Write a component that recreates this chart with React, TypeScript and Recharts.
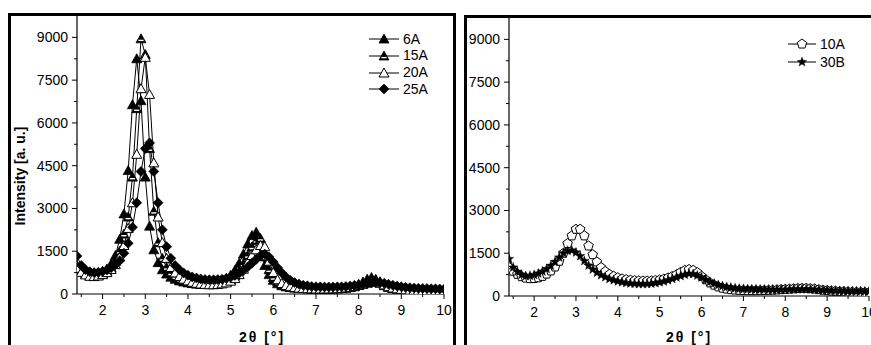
import { LineChart, Line, XAxis, YAxis } from "recharts";

// 2θ positions (deg), shared by both panels
const twoTheta = [
  1.4, 1.5, 1.6, 1.7, 1.8, 1.9, 2.0, 2.1, 2.2, 2.3, 2.4, 2.5, 2.6, 2.7, 2.8, 2.9, 3.0, 3.1, 3.2, 3.3,
  3.4, 3.5, 3.6, 3.7, 3.8, 3.9, 4.0, 4.1, 4.2, 4.3, 4.4, 4.5, 4.6, 4.7, 4.8, 4.9, 5.0, 5.1, 5.2, 5.3,
  5.4, 5.5, 5.6, 5.7, 5.8, 5.9, 6.0, 6.1, 6.2, 6.3, 6.4, 6.5, 6.6, 6.7, 6.8, 6.9, 7.0, 7.1, 7.2, 7.3,
  7.4, 7.5, 7.6, 7.7, 7.8, 7.9, 8.0, 8.1, 8.2, 8.3, 8.4, 8.5, 8.6, 8.7, 8.8, 8.9, 9.0, 9.1, 9.2, 9.3,
  9.4, 9.5, 9.6, 9.7, 9.8, 9.9, 10.0,
];

// left panel
const int6A = [
  1000, 850, 760, 710, 700, 730, 790, 880, 1050, 1350,
  1920, 2810, 4330, 6640, 8250, 6780, 4100, 2380, 1550, 1100,
  850, 700, 590, 520, 460, 420, 390, 365, 350, 345,
  345, 355, 375, 410, 460, 540, 660, 830, 1080, 1400,
  1750, 2050, 2170, 1650, 1000, 680, 480, 360, 290, 250,
  225, 210, 200, 195, 190, 190, 190, 190, 190, 195,
  200, 205, 215, 230, 255, 290, 340, 420, 520, 580,
  500, 380, 290, 230, 195, 175, 160, 150, 145, 140,
  135, 130, 130, 125, 125, 120, 120,
];
const int15A = [
  950, 800, 700, 650, 640, 660, 710, 790, 920, 1150,
  1500, 2100, 2700, 4100, 6500, 8950, 8400, 5100, 2900, 1800,
  1250, 930, 740, 610, 520, 460, 410, 380, 355, 340,
  330, 330, 335, 350, 380, 430, 510, 630, 800, 1050,
  1350, 1650, 1880, 1950, 1300, 850, 580, 420, 330, 275,
  240, 215, 200, 190, 180, 175, 170, 170, 170, 170,
  175, 180, 190, 205, 225, 255, 300, 350, 420, 490,
  510, 430, 330, 255, 205, 175, 155, 145, 135, 130,
  125, 120, 120, 115, 115, 110, 110,
];
const int20A = [
  900, 760, 670, 620, 610, 630, 680, 750, 860, 1030,
  1300, 1700, 2300, 3200, 4900, 7200, 8300, 7000, 4600, 2700,
  1800, 1250, 930, 740, 610, 520, 460, 410, 375, 350,
  335, 325, 325, 335, 355, 390, 450, 540, 680, 870,
  1100, 1350, 1550, 1700, 1660, 1150, 750, 500, 370, 300,
  255, 225, 205, 195, 185, 180, 175, 175, 175, 175,
  180, 185, 195, 210, 230, 260, 300, 340, 380, 420,
  430, 390, 320, 255, 210, 180, 160, 145, 135, 130,
  125, 120, 120, 115, 115, 110, 110,
];
const int25A = [
  1330, 1000, 850, 780, 750, 760, 790, 840, 920, 1030,
  1170, 1430, 1780, 2340, 3200, 4300, 5100, 5300, 4300, 3200,
  2250, 1660, 1250, 1000, 850, 740, 660, 600, 560, 530,
  510, 500, 500, 505, 520, 550, 590, 650, 730, 830,
  950, 1080, 1220, 1340, 1400, 1300, 1120, 920, 740, 590,
  480, 400, 350, 310, 285, 265, 255, 250, 245, 245,
  245, 250, 255, 265, 280, 300, 320, 345, 370, 390,
  400, 395, 375, 345, 310, 280, 255, 235, 220, 210,
  200, 195, 190, 185, 180, 175, 170,
];

// right panel
const int10A = [
  1000, 870, 760, 680, 630, 610, 615, 640, 690, 770,
  880, 1020, 1220, 1500, 1840, 2110, 2340, 2340, 2110, 1755,
  1450, 1195, 1000, 860, 760, 690, 640, 600, 575, 555,
  540, 530, 525, 525, 530, 545, 565, 595, 635, 685,
  745, 830, 900, 930, 900, 820, 690, 570, 460, 380,
  320, 275, 245, 225, 210, 200, 195, 190, 190, 190,
  190, 195, 200, 205, 215, 225, 235, 245, 255, 265,
  270, 270, 260, 245, 225, 205, 190, 175, 165, 155,
  150, 145, 140, 135, 130, 125, 120,
];
const int30B = [
  1300, 1000, 850, 750, 700, 710, 740, 790, 860, 950,
  1060, 1200, 1350, 1500, 1590, 1600, 1530, 1400, 1230, 1070,
  930, 820, 730, 660, 600, 555, 515, 485, 460, 440,
  430, 420, 420, 425, 435, 455, 480, 510, 550, 600,
  650, 700, 745, 780, 770, 720, 650, 570, 500, 440,
  390, 350, 320, 295, 275, 260, 250, 245, 240, 235,
  230, 230, 225, 225, 225, 225, 225, 230, 235, 240,
  240, 240, 235, 225, 215, 205, 200, 190, 185, 180,
  175, 170, 170, 165, 165, 160, 160,
];

const xTicks = [1.5, 2, 2.5, 3, 3.5, 4, 4.5, 5, 5.5, 6, 6.5, 7, 7.5, 8, 8.5, 9, 9.5, 10];
const yTicks = [0, 750, 1500, 2250, 3000, 3750, 4500, 5250, 6000, 6750, 7500, 8250, 9000];

const FONT = '"Liberation Sans", Arial, sans-serif';

type MarkerKind = "triFilled" | "triHalf" | "triOpen" | "diamond" | "pentagon" | "star";

function Marker({ kind, cx, cy }: { kind: MarkerKind; cx: number; cy: number }) {
  if (cx == null || cy == null) return null;
  const tri = `${cx},${cy - 5} ${cx - 5},${cy + 4} ${cx + 5},${cy + 4}`;
  switch (kind) {
    case "triFilled":
      return <polygon points={tri} fill="#000" stroke="#000" strokeWidth={0.8} />;
    case "triHalf":
      return (
        <g>
          <polygon points={tri} fill="#000" stroke="#000" strokeWidth={0.8} />
          <line x1={cx - 2.6} y1={cy + 1.6} x2={cx + 2.6} y2={cy + 1.6} stroke="#fff" strokeWidth={1.4} />
        </g>
      );
    case "triOpen":
      return <polygon points={tri} fill="#fff" stroke="#000" strokeWidth={1} />;
    case "diamond":
      return (
        <polygon
          points={`${cx},${cy - 5} ${cx + 5},${cy} ${cx},${cy + 5} ${cx - 5},${cy}`}
          fill="#000"
          stroke="#000"
          strokeWidth={0.6}
        />
      );
    case "pentagon": {
      const pts = [0, 1, 2, 3, 4]
        .map((k) => {
          const a = ((-90 + 72 * k) * Math.PI) / 180;
          return `${cx + 5 * Math.cos(a)},${cy + 5 * Math.sin(a)}`;
        })
        .join(" ");
      return <polygon points={pts} fill="#fff" stroke="#000" strokeWidth={1} />;
    }
    case "star": {
      const pts = Array.from({ length: 10 }, (_, k) => {
        const r = k % 2 === 0 ? 5 : 2.1;
        const a = ((-90 + 36 * k) * Math.PI) / 180;
        return `${cx + r * Math.cos(a)},${cy + r * Math.sin(a)}`;
      }).join(" ");
      return <polygon points={pts} fill="#000" stroke="#000" strokeWidth={0.4} />;
    }
  }
  return null;
}

const isMajor = (v: number, step: number) => Math.abs(v / step - Math.round(v / step)) < 1e-6;

function BottomTick(p: any) {
  const { x, y, payload } = p;
  const major = isMajor(payload.value, 1);
  return (
    <g>
      <line x1={x} y1={y} x2={x} y2={y + (major ? 5 : 3)} stroke="#000" strokeWidth={1} />
      {major && (
        <text x={x} y={y + 21} textAnchor="middle" fontSize={14} fontFamily={FONT} fill="#000">
          {payload.value}
        </text>
      )}
    </g>
  );
}

function TopTick(p: any) {
  const { x, y, payload } = p;
  const major = isMajor(payload.value, 1);
  return <line x1={x} y1={y} x2={x} y2={y + (major ? 5 : 3)} stroke="#000" strokeWidth={1} />;
}

function LeftTick(p: any) {
  const { x, y, payload } = p;
  const major = isMajor(payload.value, 1500);
  return (
    <g>
      <line x1={x} y1={y} x2={x - (major ? 5 : 3)} y2={y} stroke="#000" strokeWidth={1} />
      {major && (
        <text x={x - 9} y={y + 5} textAnchor="end" fontSize={14} fontFamily={FONT} fill="#000">
          {payload.value}
        </text>
      )}
    </g>
  );
}

function RightTick(p: any) {
  const { x, y, payload } = p;
  const major = isMajor(payload.value, 1500);
  return <line x1={x} y1={y} x2={x - (major ? 5 : 3)} y2={y} stroke="#000" strokeWidth={1} />;
}

type Series = { name: string; values: number[]; marker: MarkerKind };

const leftSeries: Series[] = [
  { name: "6A", values: int6A, marker: "triFilled" },
  { name: "15A", values: int15A, marker: "triHalf" },
  { name: "20A", values: int20A, marker: "triOpen" },
  { name: "25A", values: int25A, marker: "diamond" },
];
const rightSeries: Series[] = [
  { name: "10A", values: int10A, marker: "pentagon" },
  { name: "30B", values: int30B, marker: "star" },
];

const buildRows = (series: Series[]) =>
  twoTheta.map((t, i) => {
    const row: Record<string, number> = { t };
    series.forEach((s) => (row[s.name] = s.values[i]));
    return row;
  });

function Panel({
  left,
  width,
  margin,
  yAxisWidth,
  series,
}: {
  left: number;
  width: number;
  margin: { top: number; right: number; bottom: number; left: number };
  yAxisWidth: number;
  series: Series[];
}) {
  const data = buildRows(series);
  const axisLine = { stroke: "#000", strokeWidth: 1.2 };
  return (
    <div style={{ position: "absolute", left, top: 0 }}>
      <LineChart width={width} height={345} data={data} margin={margin}>
        <XAxis
          xAxisId="b"
          dataKey="t"
          type="number"
          domain={[1.4, 10]}
          allowDataOverflow
          ticks={xTicks}
          interval={0}
          height={30}
          tickSize={0}
          tickMargin={0}
          tickLine={false}
          axisLine={axisLine}
          tick={BottomTick}
        />
        <XAxis
          xAxisId="t"
          orientation="top"
          dataKey="t"
          type="number"
          domain={[1.4, 10]}
          allowDataOverflow
          ticks={xTicks}
          interval={0}
          height={0}
          tickSize={0}
          tickMargin={0}
          tickLine={false}
          axisLine={axisLine}
          tick={TopTick}
        />
        <YAxis
          yAxisId="l"
          type="number"
          domain={[0, 9750]}
          allowDataOverflow
          ticks={yTicks}
          interval={0}
          width={yAxisWidth}
          tickSize={0}
          tickMargin={0}
          tickLine={false}
          axisLine={axisLine}
          tick={LeftTick}
        />
        <YAxis
          yAxisId="r"
          orientation="right"
          type="number"
          domain={[0, 9750]}
          allowDataOverflow
          ticks={yTicks}
          interval={0}
          width={0}
          tickSize={0}
          tickMargin={0}
          tickLine={false}
          axisLine={axisLine}
          tick={RightTick}
        />
        <Line
          xAxisId="t"
          yAxisId="r"
          dataKey={series[0].name}
          stroke="none"
          dot={false}
          activeDot={false}
          legendType="none"
          isAnimationActive={false}
        />
        {series.map((s) => (
          <Line
            key={s.name}
            xAxisId="b"
            yAxisId="l"
            dataKey={s.name}
            stroke="#000"
            strokeWidth={1}
            activeDot={false}
            isAnimationActive={false}
            dot={(p: any) => <Marker key={`${s.name}-${p.index}`} kind={s.marker} cx={p.cx} cy={p.cy} />}
          />
        ))}
      </LineChart>
    </div>
  );
}

function SeriesLegend({
  x,
  y,
  rowH,
  lineW,
  series,
}: {
  x: number;
  y: number;
  rowH: number;
  lineW: number;
  series: Series[];
}) {
  return (
    <div style={{ position: "absolute", left: x, top: y, fontFamily: FONT, fontSize: 14 }}>
      {series.map((s) => (
        <div key={s.name} style={{ display: "flex", alignItems: "center", height: rowH }}>
          <svg width={lineW} height={12} style={{ display: "block" }}>
            <line x1={0} y1={6} x2={lineW} y2={6} stroke="#000" strokeWidth={1} />
            <Marker kind={s.marker} cx={lineW / 2} cy={6} />
          </svg>
          <span style={{ marginLeft: 4, lineHeight: `${rowH}px` }}>{s.name}</span>
        </div>
      ))}
    </div>
  );
}

const titleStyle: React.CSSProperties = {
  position: "absolute",
  fontFamily: FONT,
  fontWeight: "bold",
  whiteSpace: "nowrap",
  color: "#000",
};

export default function App() {
  return (
    <div
      style={{
        position: "absolute",
        left: 0,
        top: 0,
        width: 871,
        height: 345,
        overflow: "hidden",
        background: "#fff",
      }}
    >
      {/* panel frames */}
      <div
        style={{
          position: "absolute",
          left: 8,
          top: 13,
          width: 448,
          height: 400,
          border: "3px solid #000",
          boxSizing: "border-box",
        }}
      />
      <div
        style={{
          position: "absolute",
          left: 464,
          top: 15,
          width: 500,
          height: 400,
          border: "3px solid #000",
          boxSizing: "border-box",
        }}
      />

      <Panel
        left={0}
        width={460}
        margin={{ top: 16, right: 16, bottom: 21, left: 17 }}
        yAxisWidth={60}
        series={leftSeries}
      />
      <Panel
        left={460}
        width={411}
        margin={{ top: 18, right: 2, bottom: 19, left: 9 }}
        yAxisWidth={40}
        series={rightSeries}
      />

      <SeriesLegend x={369} y={30.6} rowH={16.8} lineW={30} series={leftSeries} />
      <SeriesLegend x={788} y={34.5} rowH={18} lineW={28} series={rightSeries} />

      <div
        style={{
          ...titleStyle,
          left: 20,
          top: 176,
          fontSize: 14,
          lineHeight: "16px",
          transform: "translate(-50%, -50%) rotate(-90deg)",
        }}
      >
        Intensity [a. u.]
      </div>
      <div
        style={{
          ...titleStyle,
          left: 262,
          top: 330,
          fontSize: 14,
          lineHeight: "14px",
          letterSpacing: 2,
          transform: "translateX(-50%)",
        }}
      >
        2θ [°]
      </div>
      <div
        style={{
          ...titleStyle,
          left: 689,
          top: 330,
          fontSize: 14,
          lineHeight: "14px",
          letterSpacing: 2,
          transform: "translateX(-50%)",
        }}
      >
        2θ [°]
      </div>
    </div>
  );
}
